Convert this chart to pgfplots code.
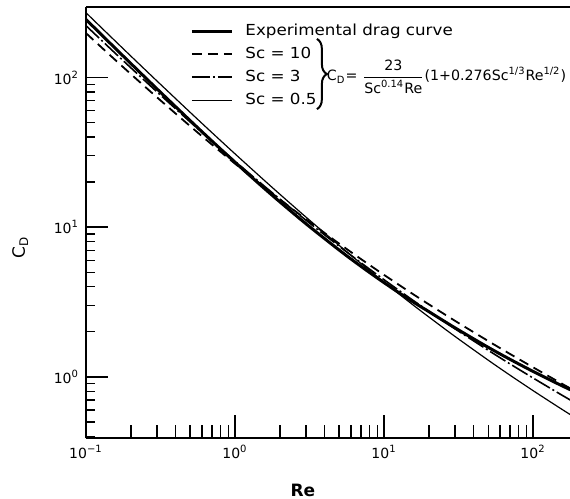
\documentclass[border=0pt]{standalone}
\usepackage{fontspec}
\setmainfont{DejaVu Sans}
\newfontfamily\legfont[FakeStretch=1.1]{DejaVu Sans}
\usepackage{pgfplots}
\pgfplotsset{compat=1.18}
\usetikzlibrary{decorations.pathreplacing}

\begin{document}
\begin{tikzpicture}
\begin{axis}[
  name=ax,
  xmode=log, ymode=log, log basis x=10, log basis y=10,
  scale only axis, width=242pt, height=215.5pt,
  xmin=0.1, xmax=177, ymin=0.39, ymax=296,
  axis x line*=box, axis y line*=left,
  axis line style={line width=1.1pt, -},
  xtick pos=bottom, ytick pos=left,
  tick align=inside,
  major tick length=11.5pt, minor tick length=6.5pt,
  tick style={line width=0.7pt, black},
  ytick style={/pgfplots/major tick length=11pt, /pgfplots/minor tick length=4.5pt},
  xticklabel={\pgfmathparse{round(\tick)}\pgfmathtruncatemacro{\e}{\pgfmathresult}10\textsuperscript{\ifnum\e<0 −\the\numexpr-\e\relax\else\e\fi}},
  yticklabel={\pgfmathparse{round(\tick)}\pgfmathtruncatemacro{\e}{\pgfmathresult}10\textsuperscript{\ifnum\e<0 −\the\numexpr-\e\relax\else\e\fi}},
  tick label style={font=\fontsize{7}{8}\selectfont},
  xlabel={Re},
  xlabel style={font=\bfseries\fontsize{8.5}{9}\selectfont, at={(axis description cs:0.448,-0.121)}, anchor=center},
  ylabel={C\textsubscript{D}},
  ylabel style={font=\fontsize{8.5}{9}\selectfont, at={(axis description cs:-0.136,0.443)}, anchor=center},
  legend style={at={(axis description cs:0.215,0.962)}, anchor=north west, draw=none, fill=none,
    font=\legfont\fontsize{7.6}{9}\selectfont, row sep=4pt, inner sep=0pt,
    nodes={inner sep=0pt, text height=6pt, text depth=1.5pt}},
  legend cell align=left,
  legend image code/.code={\draw[#1] (0pt,0pt) -- (20pt,0pt); \path (26pt,0pt);},
]
% experimental standard drag curve
\addplot[black, line width=1.5pt, smooth] coordinates {
  (0.1,244.3) (0.15,164.1) (0.2,124.0) (0.3,83.80) (0.5,51.54) (0.7,37.64)
  (1,27.16) (1.5,18.92) (2,14.76) (3,10.52) (5,7.033) (7,5.476) (10,4.258)
  (15,3.253) (20,2.725) (30,2.122) (50,1.574) (70,1.309) (100,1.087)
  (150,0.889) (200,0.776)};
\addlegendentry{Experimental drag curve}
% Sc = 10
\addplot[black, line width=0.9pt, dash pattern=on 5pt off 3pt, smooth] coordinates {
  (0.1,197.95) (0.15,136.66) (0.2,105.46) (0.3,73.63) (0.5,47.34) (0.7,35.64)
  (1,26.57) (1.5,19.20) (2,15.34) (3,11.274) (5,7.763) (7,6.125) (10,4.799)
  (15,3.669) (20,3.0485) (30,2.364) (50,1.7344) (70,1.4222) (100,1.1574)
  (150,0.9200) (200,0.7839)};
\addlegendentry{Sc = 10}
% Sc = 3
\addplot[black, line width=0.8pt, dash pattern=on 9pt off 1.5pt on 1pt off 1.5pt, smooth] coordinates {
  (0.1,222.04) (0.15,151.74) (0.2,116.16) (0.3,80.07) (0.5,50.54) (0.7,37.56)
  (1,27.57) (1.5,19.56) (2,15.41) (3,11.106) (5,7.455) (7,5.784) (10,4.455)
  (15,3.342) (20,2.7414) (30,2.0906) (50,1.5046) (70,1.2200) (100,0.9822)
  (150,0.7724) (200,0.6537)};
\addlegendentry{Sc = 3}
% Sc = 0.5
\addplot[black, line width=0.6pt, smooth] coordinates {
  (0.1,271.00) (0.15,183.29) (0.2,139.13) (0.3,94.62) (0.5,58.54) (0.7,42.84)
  (1,30.90) (1.5,21.43) (2,16.598) (3,11.653) (5,7.552) (7,5.719) (10,4.290)
  (15,3.123) (20,2.5086) (30,1.8584) (50,1.2920) (70,1.0256) (100,0.8086)
  (150,0.6223) (200,0.5193)};
\addlegendentry{Sc = 0.5}
\draw[line width=1pt, decorate, decoration={brace, amplitude=5pt}]
  (rel axis cs:0.477,0.926) -- (rel axis cs:0.477,0.763);
\node[anchor=west, inner sep=0pt, font=\fontsize{7.1}{9}\selectfont]
  at (rel axis cs:0.497,0.838)
  {C\textsubscript{D}= $\displaystyle\frac{\mbox{23}}{\mbox{Sc\textsuperscript{0.14}Re}}$(1+0.276Sc\textsuperscript{1/3}Re\textsuperscript{1/2})};
\end{axis}
\pgfresetboundingbox
\path[use as bounding box] ([xshift=-43pt,yshift=-30pt]ax.south west) rectangle ([yshift=3.5pt]ax.north east);
\end{tikzpicture}
\end{document}
